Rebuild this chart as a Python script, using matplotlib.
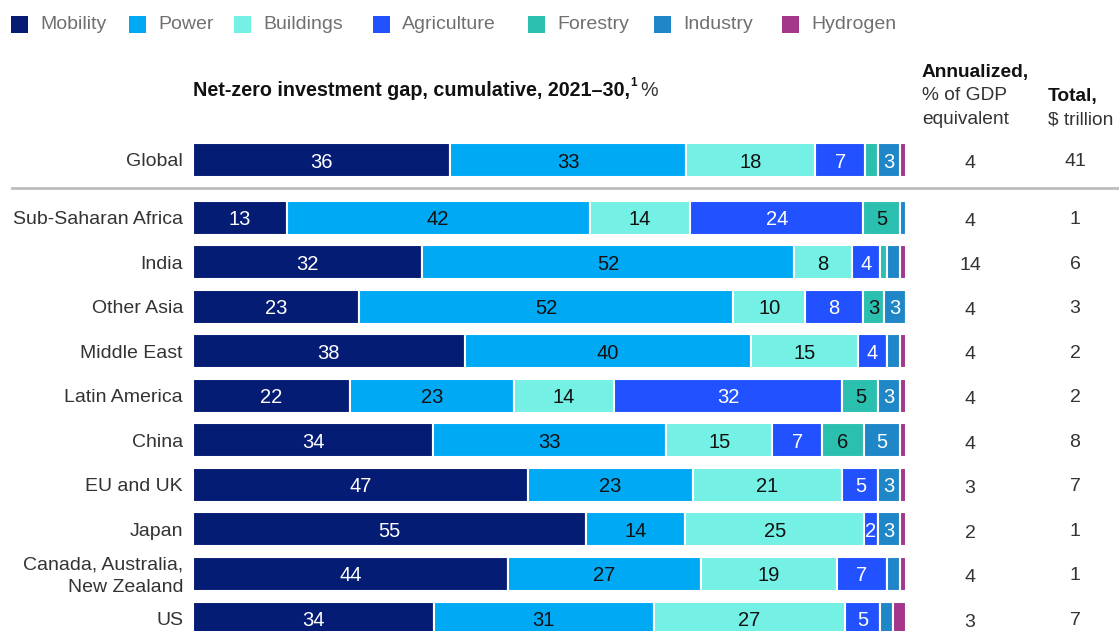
import matplotlib
matplotlib.use("Agg")
import matplotlib.pyplot as plt
import matplotlib.transforms as mtransforms
from matplotlib.patches import Rectangle
import numpy as np

plt.rcParams['font.family'] = ['Liberation Sans', 'DejaVu Sans']

# data
regions = ["Global", "Sub-Saharan Africa", "India", "Other Asia", "Middle East",
           "Latin America", "China", "EU and UK", "Japan",
           "Canada, Australia,\nNew Zealand", "US"]
sectors = ["Mobility", "Power", "Buildings", "Agriculture", "Forestry", "Industry", "Hydrogen"]

mobility    = [36, 13, 32, 23, 38, 22, 34, 47, 55, 44, 34]
power       = [33, 42, 52, 52, 40, 23, 33, 23, 14, 27, 31]
buildings   = [18, 14,  8, 10, 15, 14, 15, 21, 25, 19, 27]
agriculture = [7, 24,  4,  8,  4, 32,  7,  5,  2,  7,  5]
forestry    = [1.8, 5, 0.9, 3, 0, 5, 6, 0, 0, 0, 0]
industry    = [3, 0.9, 1.8, 3, 1.8, 3, 5, 3, 3, 1.8, 1.8]
hydrogen    = [0.9, 0, 0.9, 0, 0.9, 0.9, 0.9, 0.9, 0.9, 0.9, 1.8]

annualized = [4, 4, 14, 4, 4, 4, 4, 3, 2, 4, 3]
total      = [41, 1, 6, 3, 2, 2, 8, 7, 1, 1, 7]

colors = ["#051c75", "#00a9f4", "#74f0e5", "#2251ff", "#2bbfb0", "#1f86c8", "#a4368c"]
label_colors = ["white", "#111111", "#111111", "white", "#111111", "white", "white"]

W, H = 1119, 631
fig = plt.figure(figsize=(W / 100, H / 100), dpi=100)
renderer = fig.canvas.get_renderer()

# bar axes: x from 193px to 906px, y in row units
ax = fig.add_axes([193 / W, 0, 713 / W, 1])
row_px = 44.56
ssa_px = 217.5
ax.set_ylim((H - ssa_px) / row_px, -ssa_px / row_px)
ax.set_xlim(0, 100)
ax.axis("off")

ypos = np.array([-57.5 / row_px] + list(range(10)))
series = np.array([mobility, power, buildings, agriculture, forestry, industry, hydrogen], dtype=float)
row_sums = series.sum(axis=0)
widths = series / row_sums * 100
txt_dy = 2.0 / row_px

left = np.zeros(len(regions))
for i, name in enumerate(sectors):
    ax.barh(ypos, widths[i], left=left, height=34 / row_px, color=colors[i],
            edgecolor="white", linewidth=1.5, label=name)
    for j in range(len(regions)):
        v = series[i, j]
        if v >= 2:
            ax.text(left[j] + widths[i, j] / 2, ypos[j] + txt_dy, f"{int(round(v))}",
                    ha="center", va="center", fontsize=14.5, color=label_colors[i])
    left += widths[i]

# row labels and value columns
tr = mtransforms.blended_transform_factory(fig.transFigure, ax.transData)
for j, r in enumerate(regions):
    ax.text(183 / W, ypos[j] + txt_dy, r, transform=tr, ha="right", va="center",
            fontsize=14, color="#333333", linespacing=1.4)
    ax.text(970 / W, ypos[j] + txt_dy + 0.04, str(annualized[j]), transform=tr, ha="center",
            va="center", fontsize=14, color="#333333")
    ax.text(1075 / W, ypos[j] + txt_dy, str(total[j]), transform=tr, ha="center",
            va="center", fontsize=14, color="#333333")

# separator under Global
fig.add_artist(plt.Line2D([12 / W, 1], [1 - 188 / H, 1 - 188 / H],
                          transform=fig.transFigure, color="#bdbdbd", lw=2))

# headers
hs = 13.8
t = fig.text(193 / W, 1 - 90 / H, "Net-zero investment gap, cumulative, 2021\u201330,",
             ha="left", va="center", fontsize=14.2, fontweight="bold", color="#111111")
bb = t.get_window_extent(renderer)
s = fig.text((bb.x1 + 0.5) / W, (bb.y1 - 6) / H, "1", ha="left", va="baseline",
             fontsize=8.5, fontweight="bold", color="#111111")
bb2 = s.get_window_extent(renderer)
fig.text((bb2.x1 + 3) / W, 1 - 90 / H, "%", ha="left", va="center", fontsize=14.2, color="#333333")

fig.text(922 / W, 1 - 72 / H, "Annualized,", ha="left", va="center",
         fontsize=hs, fontweight="bold", color="#111111")
fig.text(922 / W, 1 - 96 / H, "% of GDP", ha="left", va="center", fontsize=hs, color="#333333")
fig.text(922 / W, 1 - 120 / H, "equivalent", ha="left", va="center", fontsize=hs, color="#333333")
fig.text(1048 / W, 1 - 96 / H, "Total,", ha="left", va="center",
         fontsize=hs, fontweight="bold", color="#111111")
fig.text(1048 / W, 1 - 120 / H, "\\$ trillion", ha="left", va="center", fontsize=hs, color="#333333")

# legend, squares placed as in the reference
legend_x = [11, 129, 234, 373, 528, 654, 782]
ly = 24.5
for x, name, c in zip(legend_x, sectors, colors):
    fig.add_artist(Rectangle((x / W, 1 - (ly + 8.5) / H), 17 / W, 17 / H,
                             transform=fig.transFigure, facecolor=c, edgecolor="none"))
    fig.text((x + 29) / W, 1 - ly / H, name, ha="left", va="center",
             fontsize=14, color="#707070")

fig.savefig("out.png", dpi=100)
